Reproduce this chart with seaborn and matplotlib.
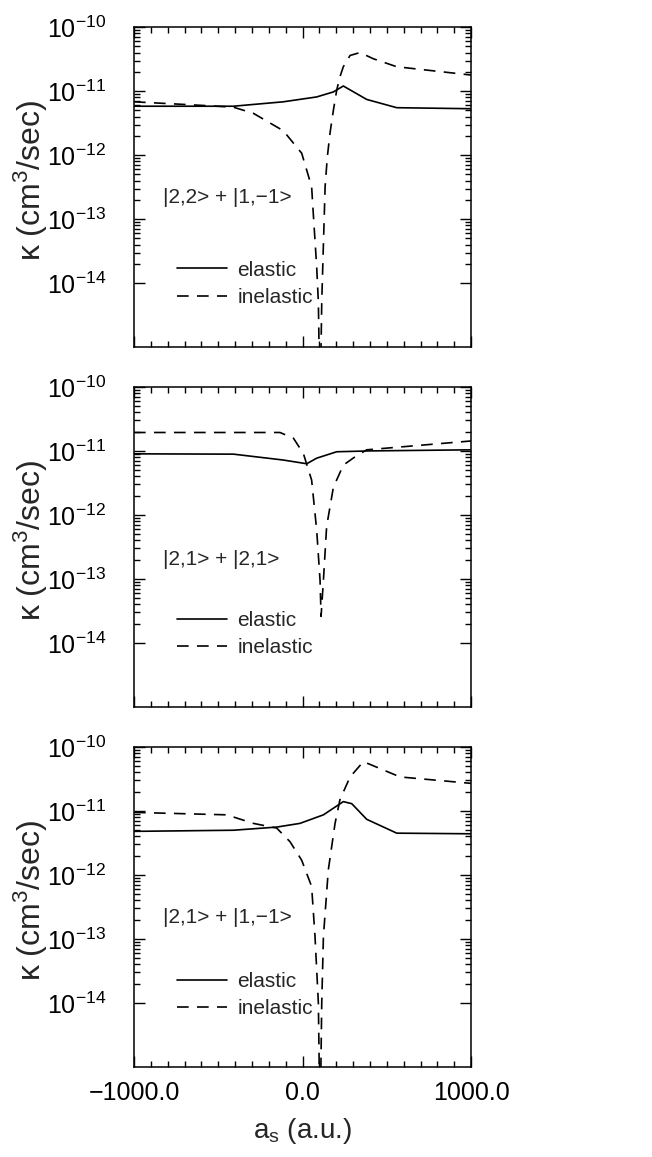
import matplotlib
matplotlib.use("Agg")
import matplotlib.pyplot as plt
from matplotlib.ticker import FixedLocator, MultipleLocator, FuncFormatter, LogFormatterMathtext, NullFormatter
import seaborn as sns
import pandas as pd

# panel 1: |2,2> + |1,-1>
p1_el_a = [-1000, -410, -114, 84, 183, 242, 381, 559, 1000]
p1_el_k = [5.8e-12, 5.8e-12, 6.8e-12, 8.1e-12, 9.7e-12, 1.2e-11, 7.4e-12, 5.5e-12, 5.3e-12]
p1_in_a = [-1000, -608, -410, -292, -114, -5, 54, 64, 84, 94, 104, 114, 120, 134, 147, 163,
           183, 203, 222, 242, 282, 341, 420, 559, 1000]
p1_in_k = [6.8e-12, 6.0e-12, 5.6e-12, 4.5e-12, 2.4e-12, 1.07e-12, 3.2e-13, 1.2e-13, 1.8e-14, 5e-15,
           1e-16, 5e-15, 1.8e-14, 3.2e-13, 9.3e-13, 2.2e-12, 5.0e-12, 1.04e-11, 1.67e-11, 2.4e-11,
           3.6e-11, 4.0e-11, 3.2e-11, 2.4e-11, 1.78e-11]

# panel 2: |2,1> + |2,1>
p2_el_a = [-1000, -410, -114, 25, 84, 203, 400, 1000]
p2_el_k = [9.0e-12, 8.9e-12, 7.2e-12, 6.3e-12, 7.7e-12, 9.7e-12, 1.0e-11, 1.04e-11]
p2_in_a = [-1000, -134, -54, 5, 54, 84, 104, 110, 124, 143, 183, 242, 312, 381, 1000]
p2_in_k = [1.94e-11, 1.94e-11, 1.58e-11, 9.1e-12, 3.5e-12, 5.8e-13, 9.5e-14, 2.6e-14, 9.6e-14,
           6.6e-13, 2.7e-12, 6.0e-12, 8.1e-12, 1.04e-11, 1.43e-11]

# panel 3: |2,1> + |1,-1>
p3_el_a = [-1000, -410, -153, -15, 124, 242, 292, 381, 559, 1000]
p3_el_k = [4.8e-12, 5.0e-12, 5.6e-12, 6.4e-12, 8.7e-12, 1.4e-11, 1.3e-11, 7.4e-12, 4.5e-12, 4.4e-12]
p3_in_a = [-1000, -450, -292, -153, -74, -5, 54, 74, 94, 104, 114, 124, 153, 193, 222, 282,
           361, 579, 1000]
p3_in_k = [9.5e-12, 8.7e-12, 6.4e-12, 5.4e-12, 3.3e-12, 1.7e-12, 6.6e-13, 1.1e-13, 1e-14, 1e-16,
           1e-14, 1.1e-13, 1.2e-12, 6.4e-12, 1.5e-11, 3.4e-11, 5.9e-11, 3.4e-11, 2.7e-11]

panel_labels = ["|2,2> + |1,\u22121>", "|2,1> + |2,1>", "|2,1> + |1,\u22121>"]
series = [
    (p1_el_a, p1_el_k, p1_in_a, p1_in_k),
    (p2_el_a, p2_el_k, p2_in_a, p2_in_k),
    (p3_el_a, p3_el_k, p3_in_a, p3_in_k),
]
y_major = [1e-14, 1e-13, 1e-12, 1e-11, 1e-10]
x_major = [-1000, 0, 1000]

sns.set_style("ticks")
plt.rcParams['font.family'] = ['Liberation Sans', 'DejaVu Sans']
plt.rcParams['mathtext.fontset'] = 'custom'
plt.rcParams['mathtext.rm'] = 'Liberation Sans'
plt.rcParams['mathtext.it'] = 'Liberation Sans:italic'
plt.rcParams['mathtext.bf'] = 'Liberation Sans:bold'

fig = plt.figure(figsize=(6.52, 11.57), dpi=100)
bottoms = [0.700, 0.389, 0.0778]
legend_y = [0.198, 0.228, 0.225]
label_y = [0.469, 0.46, 0.466]

# minor ticks on the decades that carry labels
minor_y = [m * 10.0 ** e for e in range(-14, -10) for m in range(2, 10)]

for i, (el_a, el_k, in_a, in_k) in enumerate(series):
    ax = fig.add_axes([0.2055, bottoms[i], 0.517, 0.2766])
    df = pd.DataFrame({
        'a': list(el_a) + list(in_a),
        'k': list(el_k) + list(in_k),
        'kind': ['elastic'] * len(el_a) + ['inelastic'] * len(in_a),
    })
    sns.lineplot(data=df, x='a', y='k', style='kind',
                 dashes={'elastic': '', 'inelastic': (7, 5)},
                 color='black', lw=1.2, estimator=None, errorbar=None, ax=ax)
    ax.set_yscale('log')
    ax.set_ylim(1e-15, 1e-10)
    ax.set_xlim(-1000, 1000)

    ax.yaxis.set_major_locator(FixedLocator(y_major))
    ax.yaxis.set_minor_locator(FixedLocator(minor_y))
    ax.yaxis.set_major_formatter(LogFormatterMathtext())
    ax.yaxis.set_minor_formatter(NullFormatter())
    ax.xaxis.set_major_locator(FixedLocator(x_major))
    ax.xaxis.set_minor_locator(MultipleLocator(100))
    ax.xaxis.set_major_formatter(FuncFormatter(lambda v, p: f"{v:.1f}".replace('-', '\u2212')))

    ax.tick_params(which='both', direction='in', top=True, right=True, width=1.0, colors='black')
    ax.tick_params(which='major', length=8)
    ax.tick_params(which='minor', length=4)
    ax.tick_params(axis='y', labelsize=18, pad=20)
    ax.tick_params(axis='x', labelsize=18, pad=10)
    for s in ax.spines.values():
        s.set_linewidth(1.1)
        s.set_color('black')

    ax.set_ylabel("\u03ba (cm$^3$/sec)", fontsize=23)
    ax.yaxis.set_label_coords(-0.25, 0.52)
    if i < 2:
        ax.set_xlabel("")
        ax.tick_params(axis='x', labelbottom=False)
    else:
        ax.set_xlabel("a$_\\mathregular{s}$ (a.u.)", fontsize=20, labelpad=8)

    ax.text(0.086, label_y[i], panel_labels[i], transform=ax.transAxes,
            fontsize=15, va='center', ha='left')

    old = ax.get_legend()
    handles = old.legend_handles
    labels = [t.get_text() for t in old.get_texts()]
    old.remove()
    keep = [(h, l) for h, l in zip(handles, labels) if l in ('elastic', 'inelastic')]
    for h, _ in keep:
        h.set_color('black')
        h.set_linewidth(1.2)
    ax.legend([h for h, _ in keep], [l for _, l in keep], loc='center left',
              bbox_to_anchor=(0.128, legend_y[i]), frameon=False, fontsize=15,
              handlelength=2.4, handletextpad=0.5, labelspacing=0.4,
              borderaxespad=0, borderpad=0)

fig.savefig("out.png", dpi=100)
